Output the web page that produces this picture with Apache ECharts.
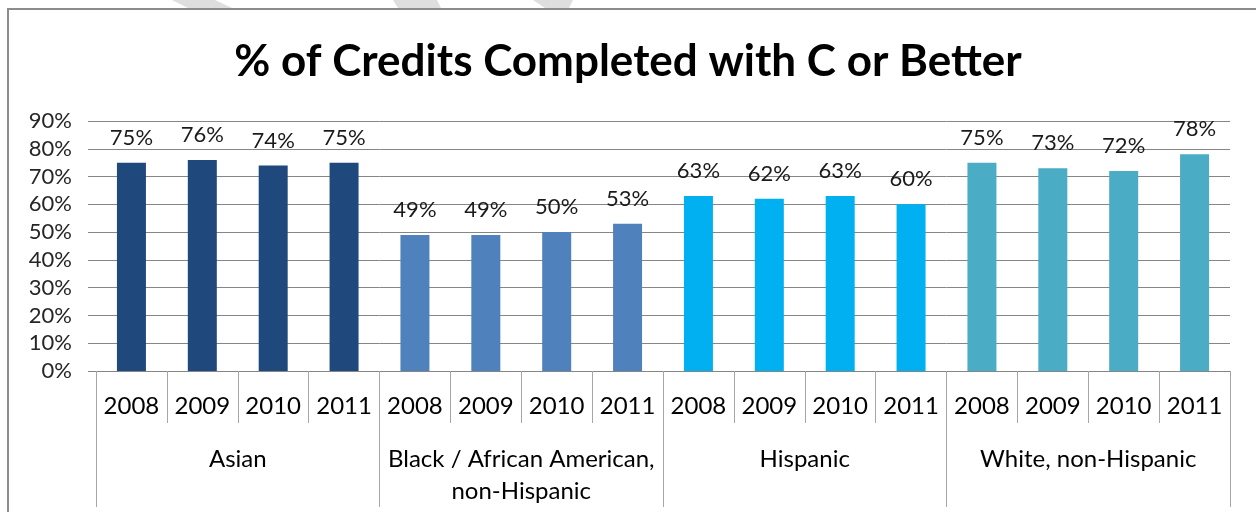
<!DOCTYPE html>
<html>
<head>
<meta charset="utf-8">
<script src="https://cdn.jsdelivr.net/npm/echarts@6/dist/echarts.min.js"></script>
<style>
  html, body { margin: 0; padding: 0; background: #fff; }
  #chart { width: 1256px; height: 512px; }
</style>
</head>
<body>
<div id="chart"></div>
<script>
// Data.
var groups = ['Asian', 'Black / African American,\nnon-Hispanic', 'Hispanic', 'White, non-Hispanic'];
var years = ['2008', '2009', '2010', '2011'];
var asian = [75, 76, 74, 75];
var black = [49, 49, 50, 53];
var hispanic = [63, 62, 63, 60];
var white = [75, 73, 72, 78];
var yTicks = [0, 10, 20, 30, 40, 50, 60, 70, 80, 90];

var groupColors = ['#1F497D', '#4F81BD', '#00B0F0', '#4BACC6'];
var font = 'Lato';

// Build the flat category axis (one slot per group/year) and bar items.
var cats = [];
var items = [];
[asian, black, hispanic, white].forEach(function (vals, g) {
  vals.forEach(function (v, i) {
    cats.push({value: g + '-' + years[i]});
    items.push({value: v, itemStyle: {color: groupColors[g]}});
  });
});

var chart = echarts.init(document.getElementById('chart'), null, {renderer: 'canvas'});

var option = {
  animation: false,
  title: {
    text: '% of Credits Completed with C or Better',
    left: 'center',
    top: 35,
    textStyle: {fontFamily: font, fontWeight: 'bold', fontSize: 44, color: '#000'}
  },
  grid: {left: 96, right: 26, top: 121, bottom: 141},
  yAxis: {
    type: 'value',
    min: yTicks[0],
    max: yTicks[yTicks.length - 1],
    interval: 10,
    axisLine: {show: false},
    axisTick: {show: true, length: 8, lineStyle: {color: '#868686'}},
    splitLine: {lineStyle: {color: '#868686'}},
    axisLabel: {
      formatter: '{value}%',
      margin: 24,
      fontFamily: font,
      fontSize: 22,
      color: '#262626'
    }
  },
  xAxis: [
    {
      type: 'category',
      data: cats,
      position: 'bottom',
      axisLine: {lineStyle: {color: '#868686'}},
      axisTick: {show: true, interval: 0, length: 52, lineStyle: {color: '#a6a6a6'}},
      axisLabel: {
        interval: 0,
        margin: 23,
        fontFamily: font,
        fontSize: 24,
        color: '#000',
        formatter: function (v) { return v.split('-')[1]; }
      }
    },
    {
      type: 'category',
      data: groups,
      position: 'bottom',
      axisLine: {show: false},
      axisTick: {show: true, interval: 0, length: 136, lineStyle: {color: '#a6a6a6'}},
      axisLabel: {
        interval: 0,
        margin: 72,
        fontFamily: font,
        fontSize: 24,
        lineHeight: 32,
        color: '#000'
      }
    }
  ],
  series: [{
    type: 'bar',
    xAxisIndex: 0,
    data: items,
    barWidth: 29,
    label: {
      show: true,
      position: 'top',
      distance: 14,
      formatter: '{c}%',
      fontFamily: font,
      fontSize: 22,
      color: '#1a1a1a'
    }
  }],
  graphic: [
    // frame round the chart
    {type: 'rect', shape: {x: 8, y: 9, width: 1300, height: 600}, style: {fill: 'none', stroke: '#8c8c8c', lineWidth: 2}, silent: true},
    // faint page marks above the frame
    {type: 'polygon', shape: {points: [[172, 0], [215, 0], [232, 8], [188, 8]]}, style: {fill: '#dedede'}, silent: true},
    {type: 'polygon', shape: {points: [[393, 0], [437, 0], [441, 8], [398, 8]]}, style: {fill: '#dedede'}, silent: true},
    {type: 'polygon', shape: {points: [[533, 0], [573, 0], [569, 8], [545, 8]]}, style: {fill: '#dedede'}, silent: true}
  ]
};

chart.setOption(option);
</script>
</body>
</html>
